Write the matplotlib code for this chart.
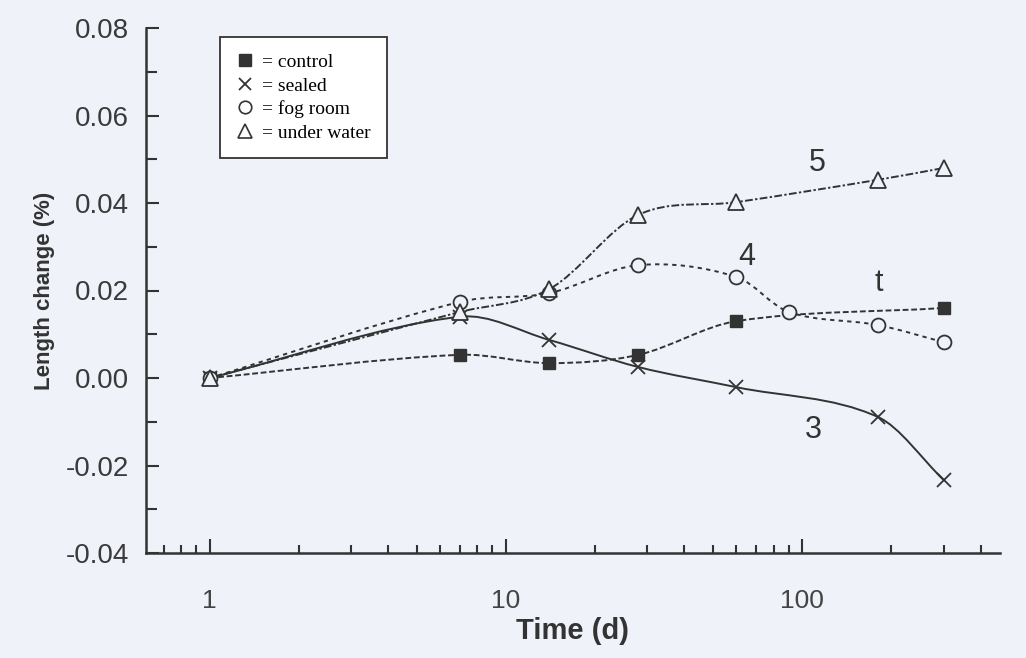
import numpy as np
import matplotlib
matplotlib.use("Agg")
import matplotlib.pyplot as plt
from matplotlib.path import Path
from matplotlib.patches import PathPatch
from matplotlib.lines import Line2D
from matplotlib.ticker import LogLocator, FixedLocator, FuncFormatter, MultipleLocator

# data (time in days, length change in %)
days_control = [1, 7, 14, 28, 60, 300]
control = [0.0, 0.0053, 0.0034, 0.0053, 0.0130, 0.0160]

days_sealed = [1, 7, 14, 28, 60, 180, 300]
sealed = [0.0, 0.0140, 0.0087, 0.0025, -0.0021, -0.0089, -0.0233]

days_fog = [1, 7, 14, 28, 60, 90, 180, 300]
fog = [0.0, 0.0174, 0.0194, 0.0258, 0.0231, 0.0151, 0.0121, 0.0082]

days_water = [1, 7, 14, 28, 60, 180, 300]
water = [0.0, 0.0151, 0.0203, 0.0373, 0.0402, 0.0453, 0.0480]

curve_labels = ["5", "4", "t", "3"]
curve_label_x = [112, 65, 181, 109]
curve_label_y = [0.0491, 0.0277, 0.0217, -0.0119]

INK = "#333333"
BG = "#eff2f8"


def smooth_path(xs, ys):
    '''
    cubic hermite curve as bezier path, built in log-x space
    '''
    lx = np.log10(xs)
    y = np.asarray(ys, dtype=float)
    n = len(lx)
    m = np.zeros(n)
    m[0] = (y[1] - y[0]) / (lx[1] - lx[0])
    m[-1] = (y[-1] - y[-2]) / (lx[-1] - lx[-2])
    for i in range(1, n - 1):
        m[i] = (y[i + 1] - y[i - 1]) / (lx[i + 1] - lx[i - 1])
    verts = [(lx[0], y[0])]
    codes = [Path.MOVETO]
    for i in range(n - 1):
        h = lx[i + 1] - lx[i]
        verts += [(lx[i] + h / 3, y[i] + m[i] * h / 3),
                  (lx[i + 1] - h / 3, y[i + 1] - m[i + 1] * h / 3),
                  (lx[i + 1], y[i + 1])]
        codes += [Path.CURVE4] * 3
    verts = np.array(verts)
    verts[:, 0] = 10 ** verts[:, 0]
    return Path(verts, codes)


fig = plt.figure(figsize=(10.26, 6.58), dpi=100, facecolor=BG)
ax = fig.add_axes([146 / 1026, 105 / 658, 854 / 1026, 525 / 658])
ax.set_facecolor(BG)
ax.set_xscale("log")
ax.set_xlim(0.61, 465)
ax.set_ylim(-0.04, 0.08)

series = [
    (days_sealed, sealed, "-", "x", dict(mfc="none", ms=10, mew=1.3)),
    (days_control, control, (0, (3, 1.4)), "s", dict(mfc=INK, ms=9)),
    (days_fog, fog, (0, (2.2, 2.2)), "o", dict(mfc=BG, ms=10, mew=1.3)),
    (days_water, water, (0, (4, 1.2, 1.2, 1.2)), "^", dict(mfc=BG, ms=12, mew=1.3)),
]
for xs, ys, ls, mk, mkw in series:
    ax.add_patch(PathPatch(smooth_path(xs, ys), fill=False, ec=INK, lw=1.4, ls=ls, zorder=2))
    ax.plot(xs, ys, ls="none", marker=mk, mec=INK, zorder=3, **mkw)

for txt, x, y in zip(curve_labels, curve_label_x, curve_label_y):
    ax.text(x, y, txt, fontsize=22, color=INK, ha="center", va="center", family="Liberation Sans")

# axes styling
for side in ["top", "right"]:
    ax.spines[side].set_visible(False)
for side in ["left", "bottom"]:
    ax.spines[side].set_linewidth(1.8)
    ax.spines[side].set_color(INK)

ax.xaxis.set_major_locator(FixedLocator([1, 10, 100]))
ax.xaxis.set_minor_locator(LogLocator(base=10, subs=np.arange(2, 10)))
ax.xaxis.set_major_formatter(FuncFormatter(lambda v, p: f"{v:g}"))
ax.xaxis.set_minor_formatter(FuncFormatter(lambda v, p: ""))
ax.yaxis.set_major_locator(MultipleLocator(0.02))
ax.yaxis.set_minor_locator(MultipleLocator(0.01))
ax.yaxis.set_major_formatter(FuncFormatter(lambda v, p: f"{v:.2f}"))

ax.tick_params(which="both", direction="in", color=INK, width=1.5)
ax.tick_params(axis="y", which="major", length=9, pad=12, labelsize=20, labelcolor="#3a3a3a")
ax.tick_params(axis="y", which="minor", length=8)
ax.tick_params(axis="x", which="major", length=10, pad=26, labelsize=19, labelcolor="#444444")
ax.tick_params(axis="x", which="minor", length=6)
for lbl in ax.get_xticklabels() + ax.get_yticklabels():
    lbl.set_family("Liberation Sans")

ax.set_xlabel("Time (d)", fontsize=21, fontweight="bold", color=INK, family="Liberation Sans", labelpad=3)
ax.set_ylabel("Length change (%)", fontsize=16, fontweight="bold", color=INK, family="Liberation Sans", labelpad=8)

# legend
handles = [
    Line2D([], [], ls="none", marker="s", mfc=INK, mec=INK, ms=8),
    Line2D([], [], ls="none", marker="x", mec=INK, ms=9, mew=1.3),
    Line2D([], [], ls="none", marker="o", mfc="none", mec=INK, ms=9, mew=1.2),
    Line2D([], [], ls="none", marker="^", mfc="none", mec=INK, ms=10, mew=1.2),
]
labels = ["= control", "= sealed", "= fog room", "= under water"]
leg = ax.legend(handles, labels, loc="upper left", bbox_to_anchor=(0.087, 0.983), borderaxespad=0,
                prop={"family": "Liberation Serif", "size": 14}, handlelength=0.8, handletextpad=0.5,
                labelspacing=0.3, borderpad=0.85, fancybox=False, framealpha=1, facecolor="white",
                edgecolor=INK)
leg.get_frame().set_linewidth(1.3)

fig.savefig("out.png", dpi=100, facecolor=BG)
